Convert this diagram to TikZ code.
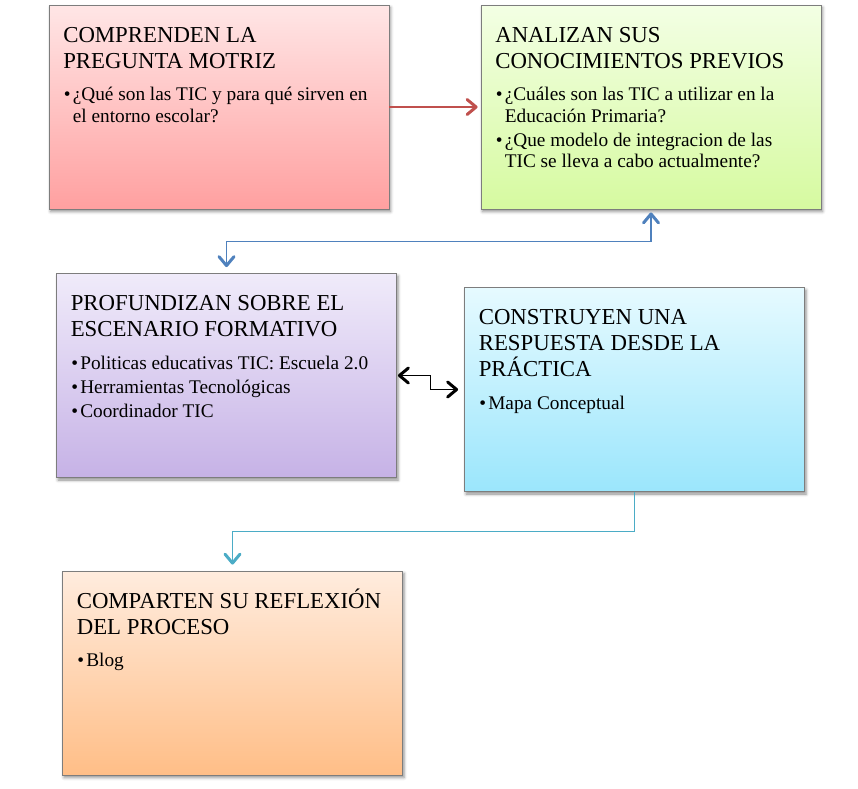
\documentclass[tikz,border=0pt]{standalone}
\usepackage{fontspec}
\setmainfont{Liberation Serif}
\usetikzlibrary{arrows.meta,calc,shadows.blur}
\definecolor{rojo}{RGB}{192,80,77}
\definecolor{azul}{RGB}{79,129,189}
\definecolor{turquesa}{RGB}{75,172,198}
\definecolor{borde}{RGB}{125,125,125}
\newcommand{\bul}[1]{\noindent\hangindent=9pt\hangafter=1\makebox[9pt][l]{\textbullet}#1\par\vspace{2.5pt}}
\tikzset{punta/.tip={Straight Barb[length=9pt,width=15pt,line width=3pt,round]}}

\begin{document}
\begin{tikzpicture}[x=1pt,y=-1pt]
\tikzstyle{caja}=[rectangle, draw=borde, line width=.8pt, minimum width=340pt, minimum height=204pt, inner sep=0pt,
  blur shadow={shadow xshift=1.5pt, shadow yshift=-2.5pt, shadow blur radius=3pt, shadow opacity=45}]
\tikzstyle{titulo}=[anchor=base west, inner sep=0pt, text width=330pt, align=flush left, font=\fontsize{22.8}{26}\selectfont]
\tikzstyle{lista}=[anchor=base west, inner sep=0pt, text width=330pt, align=flush left, font=\fontsize{19.3}{21.5}\selectfont]
\tikzstyle{flecha}=[line width=1.5pt]
\useasboundingbox (0,0) rectangle (858,788);

\node[caja, top color={rgb,255:red,255;green,230;blue,230}, bottom color={rgb,255:red,255;green,160;blue,160}] (motriz) at (219,107) {};
\node[caja, top color={rgb,255:red,243;green,255;blue,228}, bottom color={rgb,255:red,214;green,250;blue,160}] (previos) at (651,107) {};
\node[caja, top color={rgb,255:red,240;green,235;blue,250}, bottom color={rgb,255:red,198;green,178;blue,230}] (escenario) at (226.5,375.5) {};
\node[caja, top color={rgb,255:red,230;green,250;blue,255}, bottom color={rgb,255:red,155;green,230;blue,252}] (practica) at (634.5,389.5) {};
\node[caja, top color={rgb,255:red,255;green,236;blue,222}, bottom color={rgb,255:red,255;green,190;blue,135}] (reflexion) at (232.5,673) {};

% titulos
\node[titulo] (tmotriz) at ([shift={(14.5,37.5)}]motriz.north west) {COMPRENDEN LA\\PREGUNTA MOTRIZ};
\node[titulo] (tprevios) at ([shift={(14.5,37.5)}]previos.north west) {ANALIZAN SUS\\CONOCIMIENTOS PREVIOS};
\node[titulo] (tescenario) at ([shift={(14.5,37.5)}]escenario.north west) {PROFUNDIZAN SOBRE EL\\ESCENARIO FORMATIVO};
\node[titulo] (tpractica) at ([shift={(14.5,37.5)}]practica.north west) {CONSTRUYEN UNA\\RESPUESTA DESDE LA\\PRÁCTICA};
\node[titulo] (treflexion) at ([shift={(14.5,37.5)}]reflexion.north west) {COMPARTEN SU REFLEXIÓN\\DEL PROCESO};

% listas
\node[lista] (lmotriz) at ([shift={(0.5,32)}]tmotriz.south west)
  {\bul{¿Qué son las TIC y para qué sirven en\newline el entorno escolar?}};
\node[lista] (lprevios) at ([shift={(0.5,32)}]tprevios.south west)
  {\bul{¿Cuáles son las TIC a utilizar en la\newline Educación Primaria?}
   \bul{¿Que modelo de integracion de las\newline TIC se lleva a cabo actualmente?}};
\node[lista] (lescenario) at ([shift={(0.5,32)}]tescenario.south west)
  {\bul{Politicas educativas TIC: Escuela 2.0}
   \bul{Herramientas Tecnológicas}
   \bul{Coordinador TIC}};
\node[lista] (lpractica) at ([shift={(0.5,32)}]tpractica.south west)
  {\bul{Mapa Conceptual}};
\node[lista] (lreflexion) at ([shift={(0.5,32)}]treflexion.south west)
  {\bul{Blog}};

% conectores
\coordinate (m1) at ($(previos.south)!.5!(escenario.north)$);
\coordinate (m2) at ($(escenario.east)!.5!(practica.west)$);
\coordinate (m3) at ($(practica.south)!.5!(reflexion.north)$);

\draw[flecha, rojo, -punta, shorten >=3pt] (motriz) -- (previos);
\draw[flecha, azul, punta-punta, shorten <=3pt, shorten >=6pt] (previos.south) |- (m1) -| (escenario.north);
\draw[flecha, black, punta-punta, shorten <=1pt, shorten >=6pt] (escenario.east) -| (m2) |- (practica.west);
\draw[flecha, turquesa, -punta, shorten >=6pt] (practica.south) |- (m3) -| (reflexion.north);
\end{tikzpicture}
\end{document}
